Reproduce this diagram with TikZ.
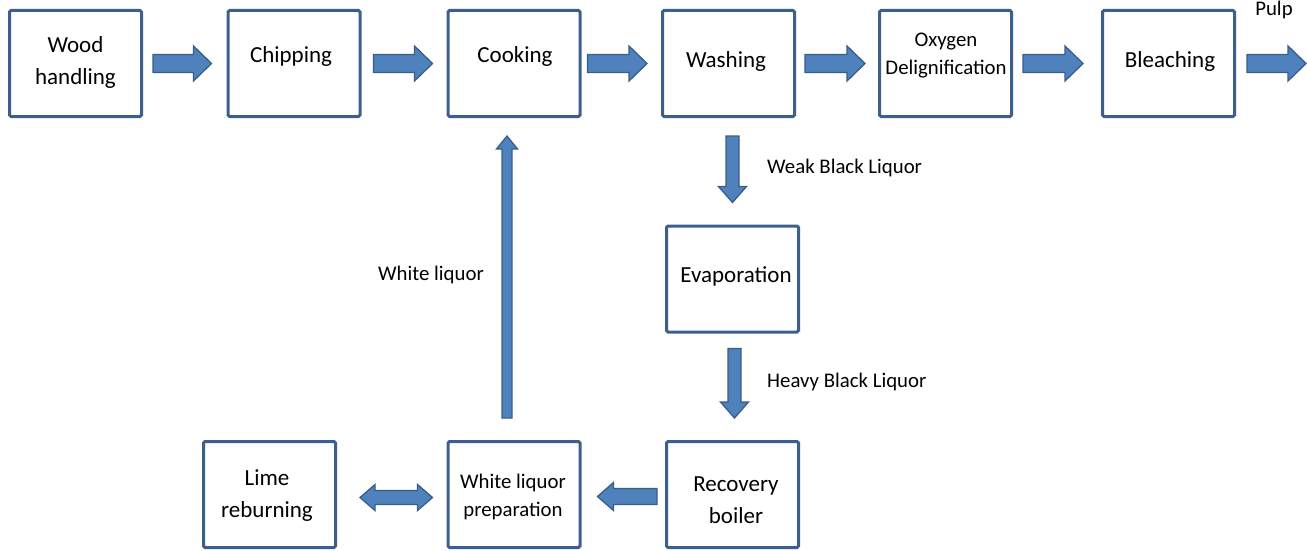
\documentclass[tikz,border=0pt]{standalone}
\usepackage{fontspec}
\setmainfont{Carlito}
\usetikzlibrary{calc}
\definecolor{boxline}{HTML}{3D5F8E}
\definecolor{arrowfill}{HTML}{4F81BD}
\definecolor{arrowline}{HTML}{385D8A}
% single block arrow: shaft half-width, head half-width, head length, start, end
\newcommand\barrow[5]{%
  \coordinate (bas) at (#4);
  \coordinate (bat) at (#5);
  \filldraw[blockarrow]
    ($(bas)!#1pt!90:(bat)$) --
    ($(bat)!#3pt!(bas)!#1pt!-90:(bas)$) --
    ($(bat)!#3pt!(bas)!#2pt!-90:(bas)$) --
    (bat) --
    ($(bat)!#3pt!(bas)!#2pt!90:(bas)$) --
    ($(bat)!#3pt!(bas)!#1pt!90:(bas)$) --
    ($(bas)!#1pt!-90:(bat)$) -- cycle;}
% double block arrow
\newcommand\dbarrow[5]{%
  \coordinate (bas) at (#4);
  \coordinate (bat) at (#5);
  \filldraw[blockarrow] (bas) --
    ($(bas)!#3pt!(bat)!#2pt!90:(bat)$) --
    ($(bas)!#3pt!(bat)!#1pt!90:(bat)$) --
    ($(bat)!#3pt!(bas)!#1pt!-90:(bas)$) --
    ($(bat)!#3pt!(bas)!#2pt!-90:(bas)$) --
    (bat) --
    ($(bat)!#3pt!(bas)!#2pt!90:(bas)$) --
    ($(bat)!#3pt!(bas)!#1pt!90:(bas)$) --
    ($(bas)!#3pt!(bat)!#1pt!-90:(bat)$) --
    ($(bas)!#3pt!(bat)!#2pt!-90:(bat)$) -- cycle;}
\tikzset{
  box/.style={draw=boxline, line width=3pt, rounded corners=1.5pt,
    minimum width=132pt, minimum height=106pt, inner sep=0pt},
  blockarrow/.style={fill=arrowfill, draw=arrowline, line width=1.3pt, line join=miter},
  bigtext/.style={align=center, inner sep=0pt, font=\fontsize{23}{32}\selectfont},
  smalltext/.style={align=center, inner sep=0pt, font=\fontsize{20.8}{28}\selectfont},
}
\begin{document}
\begin{tikzpicture}[x=1pt, y=-1pt]
\useasboundingbox (0,0) rectangle (1307,551);
% boxes
\node[box] (wood)   at (75.5,63.5) {};
\node[box] (chip)   at (294,63.5) {};
\node[box] (cook)   at (514,63.5) {};
\node[box] (wash)   at (728.5,63.5) {};
\node[box] (oxy)    at (945.5,63.5) {};
\node[box] (bleach) at (1168.5,63.5) {};
\node[box] (evap)   at (732.5,279) {};
\node[box] (recov)  at (732.5,494.5) {};
\node[box] (wlp)    at (514,494.5) {};
\node[box] (lime)   at (269.5,494.5) {};
% box texts
\node[bigtext]   (woodT)   at (75.5,62)  {Wood\\handling};
\node[bigtext]   (chipT)   at (291,56)   {Chipping};
\node[bigtext]   (cookT)   at (515,56)   {Cooking};
\node[bigtext]   (washT)   at (726,61)   {Washing};
\node[smalltext] (oxyT)    at (946,56)   {Oxygen\\Delignification};
\node[bigtext]   (bleachT) at (1170,61)  {Bleaching};
\node[bigtext]   (evapT)   at (736,276)  {Evaporation};
\node[bigtext]   (recovT)  at (736,500)  {Recovery\\boiler};
\node[smalltext] (wlpT)    at (513,497)  {White liquor\\preparation};
\node[bigtext]   (limeT)   at (267,496)  {Lime\\reburning};
% flow labels
\node[smalltext] (pulpT)  at (1274,10) {Pulp};
\node[smalltext, anchor=west] (weakT)  at (767,168) {Weak Black Liquor};
\node[smalltext, anchor=west] (heavyT) at (767,382) {Heavy Black Liquor};
\node[smalltext] (whiteT) at (431,275) {White liquor};
\coordinate (out) at (1306,63.5);
% top row arrows
\barrow{9}{17.5}{18}{$(wood.east)+(10,0)$}{$(chip.west)+(-15,0)$}
\barrow{9}{17.5}{18}{$(chip.east)+(12,0)$}{$(cook.west)+(-14,0)$}
\barrow{9}{17.5}{18}{$(cook.east)+(6,0)$}{$(wash.west)+(-14,0)$}
\barrow{9}{17.5}{18}{$(wash.east)+(9,0)$}{$(oxy.west)+(-13,0)$}
\barrow{9}{17.5}{18}{$(oxy.east)+(10,0)$}{$(bleach.west)+(-18,0)$}
\barrow{9}{17.5}{18}{$(bleach.east)+(11,0)$}{out}
% vertical arrows
\barrow{6.5}{14}{16}{$(wash.south -| evap.north)+(0,18)$}{$(evap.north)+(0,-22)$}
\barrow{6.5}{14}{16}{$(evap.south)+(2,15)$}{$(recov.north)+(2,-22)$}
\barrow{5}{10.5}{13}{$(wlp.north)+(-7,-22)$}{$(wlp.north |- cook.south)+(-7,18)$}
% bottom row arrows
\barrow{8}{14}{16}{$(recov.west)+(-8,2)$}{$(wlp.east)+(16,2)$}
\dbarrow{7}{13}{15}{$(lime.east)+(23,3)$}{$(wlp.west)+(-14,3)$}
\end{tikzpicture}
\end{document}
